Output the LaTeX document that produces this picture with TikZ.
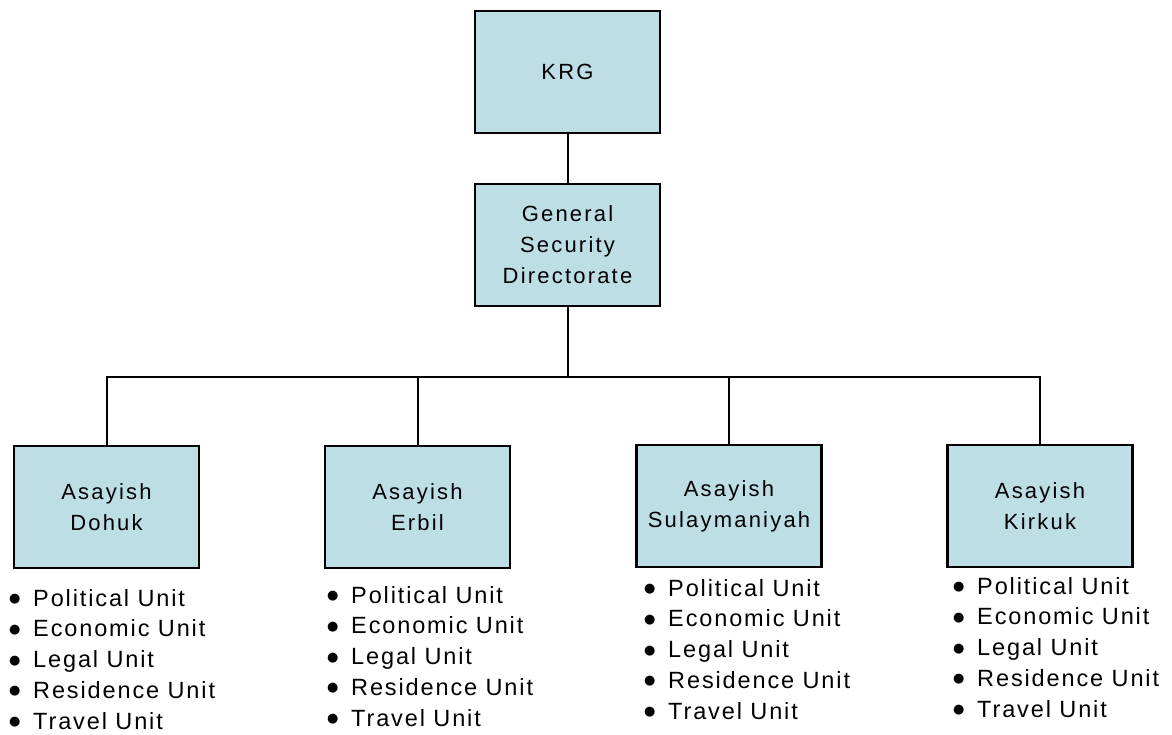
\documentclass[tikz,border=0pt]{standalone}
\usepackage{fontspec}
\setmainfont{Liberation Sans}
\newfontfamily\boxfont[LetterSpace=10]{Liberation Sans}
\newfontfamily\unitfont[LetterSpace=8]{Liberation Sans}
\newfontfamily\dotfont{DejaVu Sans}
\definecolor{boxblue}{RGB}{188,222,228}
\newcommand{\uitem}[1]{\makebox[24pt][l]{\raisebox{3.5pt}{\dotfont\fontsize{13}{13}\selectfont ●}}#1}

\begin{document}
\begin{tikzpicture}[x=1pt, y=-1pt,
    orgbox/.style={draw=black, line width=2.4pt, fill=boxblue,
        minimum width=185pt, minimum height=122pt, align=center,
        font=\boxfont\fontsize{22}{31}\selectfont},
    unitlist/.style={anchor=north west, inner sep=0pt, align=left,
        font=\unitfont\fontsize{23.5}{30.75}\selectfont},
    link/.style={line width=2pt, -}
]
    \useasboundingbox (0,0) rectangle (1172,734);
    \node[orgbox] (krg) at (567.5,72) {KRG};
    \node[orgbox] (gsd) at (567.5,245) {General\\Security\\Directorate};
    \node[orgbox] (dohuk) at (106.5,507) {Asayish\\Dohuk};
    \node[orgbox] (erbil) at (417.5,507) {Asayish\\Erbil};
    \node[orgbox] (sulay) at (729,506) {Asayish\\Sulaymaniyah};
    \node[orgbox] (kirkuk) at (1040,506) {Asayish\\Kirkuk};
    \coordinate (bus) at (567.5,377);
    \draw[link] (krg.south) -- (gsd.north);
    \draw[link] (gsd.south) -- (bus);
    \draw[link] (bus) -| (dohuk.north);
    \draw[link] (bus) -| (erbil.north);
    \draw[link] (bus) -| (sulay.north);
    \draw[link] (bus) -| (kirkuk.north);
    \node[unitlist] (dohukunits) at (9,589) {\uitem{Political Unit}\\
        \uitem{Economic Unit}\\\uitem{Legal Unit}\\
        \uitem{Residence Unit}\\\uitem{Travel Unit}};
    \node[unitlist] (erbilunits) at (327,586) {\uitem{Political Unit}\\
        \uitem{Economic Unit}\\\uitem{Legal Unit}\\
        \uitem{Residence Unit}\\\uitem{Travel Unit}};
    \node[unitlist] (sulayunits) at (644,579) {\uitem{Political Unit}\\
        \uitem{Economic Unit}\\\uitem{Legal Unit}\\
        \uitem{Residence Unit}\\\uitem{Travel Unit}};
    \node[unitlist] (kirkukunits) at (953,577) {\uitem{Political Unit}\\
        \uitem{Economic Unit}\\\uitem{Legal Unit}\\
        \uitem{Residence Unit}\\\uitem{Travel Unit}};
\end{tikzpicture}
\end{document}
